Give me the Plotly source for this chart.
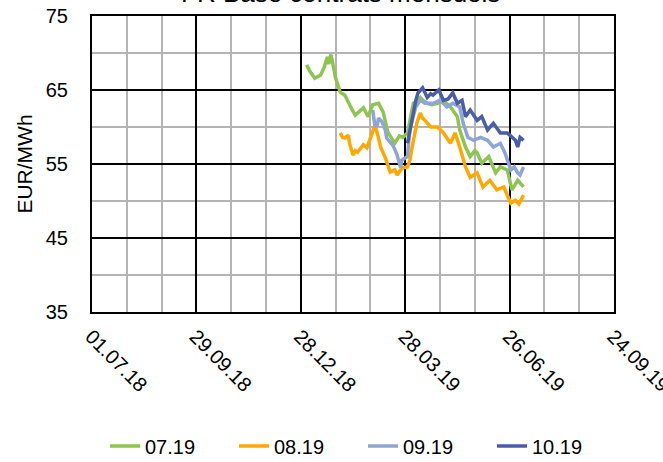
import plotly.graph_objects as go

# ---- data ----
dates_0719 = ["2019-01-02","2019-01-05","2019-01-09","2019-01-14","2019-01-17","2019-01-20","2019-01-21","2019-01-23",
              "2019-01-27","2019-01-31","2019-02-04","2019-02-07","2019-02-10","2019-02-13","2019-02-16","2019-02-20",
              "2019-02-24","2019-02-28","2019-03-05","2019-03-09","2019-03-13","2019-03-17","2019-03-19","2019-03-23",
              "2019-03-26","2019-03-30","2019-04-01","2019-04-04","2019-04-07","2019-04-10","2019-04-13","2019-04-16",
              "2019-04-20","2019-04-25","2019-04-30","2019-05-06","2019-05-12","2019-05-14","2019-05-19","2019-05-23",
              "2019-05-27","2019-05-29","2019-06-02","2019-06-08","2019-06-14","2019-06-18","2019-06-24","2019-06-28",
              "2019-07-03","2019-07-08"]
vals_0719 = [68.4,67.5,66.6,67.0,68.0,69.5,68.5,69.8,
             66.6,64.7,64.3,63.2,62.4,61.6,62.0,62.6,
             61.4,63.0,63.2,62.0,59.3,58.2,57.8,58.8,
             58.6,59.2,61.0,63.2,63.5,64.0,63.5,63.2,
             63.0,63.2,63.6,62.7,61.4,59.6,57.3,56.0,
             56.8,56.5,55.1,56.0,53.8,54.6,54.2,51.5,
             52.8,51.9]

dates_0819 = ["2019-01-31","2019-02-02","2019-02-04","2019-02-07","2019-02-08","2019-02-11","2019-02-13","2019-02-15",
              "2019-02-20","2019-02-23","2019-02-27","2019-03-02","2019-03-05","2019-03-07","2019-03-11","2019-03-15",
              "2019-03-19","2019-03-21","2019-03-24","2019-03-26","2019-03-30","2019-04-01","2019-04-03","2019-04-06",
              "2019-04-07","2019-04-10","2019-04-12","2019-04-14","2019-04-19","2019-04-25","2019-04-30","2019-05-06",
              "2019-05-10","2019-05-14","2019-05-19","2019-05-23","2019-05-29","2019-06-03","2019-06-09","2019-06-15",
              "2019-06-21","2019-06-27","2019-07-01","2019-07-04","2019-07-08"]
vals_0819 = [59.2,58.6,58.5,58.9,57.8,56.2,56.8,56.6,
             57.6,57.2,58.9,60.3,58.5,57.2,55.8,53.9,
             54.2,53.5,54.2,54.5,54.6,55.5,57.3,59.5,
             60.5,61.9,61.2,60.9,60.0,60.0,59.2,57.8,
             59.2,57.3,54.6,53.2,53.8,51.9,52.8,51.5,
             51.9,49.7,50.1,49.6,50.8]

dates_0919 = ["2019-02-28","2019-03-02","2019-03-04","2019-03-05","2019-03-08","2019-03-11","2019-03-12","2019-03-17",
              "2019-03-19","2019-03-21","2019-03-24","2019-03-25","2019-03-28","2019-03-30","2019-04-01","2019-04-06",
              "2019-04-10","2019-04-14","2019-04-21","2019-04-27","2019-05-03","2019-05-08","2019-05-14","2019-05-17",
              "2019-05-21","2019-05-26","2019-06-01","2019-06-07","2019-06-12","2019-06-18","2019-06-22","2019-06-27",
              "2019-06-30","2019-07-03","2019-07-05","2019-07-08"]
vals_0919 = [62.3,60.0,60.3,61.2,60.7,59.5,58.5,57.6,
             57.0,56.2,54.5,55.5,55.8,56.0,59.6,62.7,
             63.6,63.2,63.2,63.6,62.7,63.2,62.7,60.5,
             58.6,58.2,58.6,58.2,57.3,57.8,56.5,54.2,
             54.6,53.8,53.5,54.6]

dates_1019 = ["2019-03-30","2019-04-01","2019-04-03","2019-04-06","2019-04-08","2019-04-10","2019-04-12","2019-04-16",
              "2019-04-19","2019-04-21","2019-04-26","2019-04-30","2019-05-04","2019-05-08","2019-05-12","2019-05-16",
              "2019-05-19","2019-05-23","2019-05-29","2019-06-02","2019-06-07","2019-06-12","2019-06-18","2019-06-24",
              "2019-06-28","2019-07-01","2019-07-03","2019-07-05","2019-07-08"]
vals_1019 = [57.8,59.5,61.4,63.5,64.6,65.0,65.3,64.0,
             64.5,64.3,65.0,63.6,63.8,64.6,63.2,63.6,
             61.4,62.3,60.9,61.4,59.6,60.5,59.2,59.2,
             58.6,58.2,57.3,58.6,58.2]

series_names = ["07.19", "08.19", "09.19", "10.19"]
series_colors = ["#8DC550", "#FFA800", "#8FA5D6", "#4A5EA8"]
series_dates = [dates_0719, dates_0819, dates_0919, dates_1019]
series_vals = [vals_0719, vals_0819, vals_0919, vals_1019]

title_text = "FR Base contrats mensuels"
y_title = "EUR/MWh"

DAY_MS = 86400000

fig = go.Figure()
for name, col, d, v in zip(series_names, series_colors, series_dates, series_vals):
    fig.add_trace(go.Scatter(x=d, y=v, mode="lines", name=name,
                             line=dict(color=col, width=3.5)))

font_family = "Liberation Sans, Arial, sans-serif"

fig.update_layout(
    width=663, height=462,
    margin=dict(l=92, r=49, t=16, b=150, autoexpand=False),
    paper_bgcolor="white", plot_bgcolor="white",
    font=dict(family=font_family, size=20, color="black"),
    showlegend=True,
    legend=dict(orientation="h", xref="container", yref="container",
                x=105 / 663, xanchor="left", y=1 - 446 / 462, yanchor="middle",
                font=dict(size=20), entrywidth=84, tracegroupgap=0),
)

fig.add_annotation(text=title_text, xref="paper", yref="paper",
                   x=(340 - 92) / 522, y=1 + 23.0 / 296, xanchor="center", yanchor="middle",
                   showarrow=False, font=dict(size=26, family=font_family, color="black"))

fig.update_xaxes(
    type="date", range=["2018-07-01", "2019-09-24"],
    tick0="2018-07-01", dtick=90 * DAY_MS, tickformat="%d.%m.%y",
    tickangle=45, tickfont=dict(size=20),
    ticklabelstandoff=3, ticklabelshift=-1, ticklabeloverflow="allow",
    showgrid=True, gridcolor="black", gridwidth=2,
    minor=dict(dtick=30 * DAY_MS, tick0="2018-07-01", showgrid=True, gridcolor="#B4B4B4", gridwidth=1.5),
    showline=True, linecolor="black", linewidth=2, mirror=True,
    zeroline=False, ticks="", automargin=False,
)
fig.update_yaxes(
    range=[35, 75], dtick=10, tick0=35,
    tickfont=dict(size=20),
    showgrid=True, gridcolor="black", gridwidth=2,
    minor=dict(dtick=5, tick0=35, showgrid=True, gridcolor="#B4B4B4", gridwidth=1.5),
    showline=True, linecolor="black", linewidth=2, mirror=True,
    zeroline=False, ticks="", ticklabelstandoff=18, automargin=False,
    title=dict(text=y_title, font=dict(size=21), standoff=7),
)

fig.write_html("out.html", config={"displayModeBar": False},
               post_script="document.body.style.margin='0';document.body.style.padding='0';")
